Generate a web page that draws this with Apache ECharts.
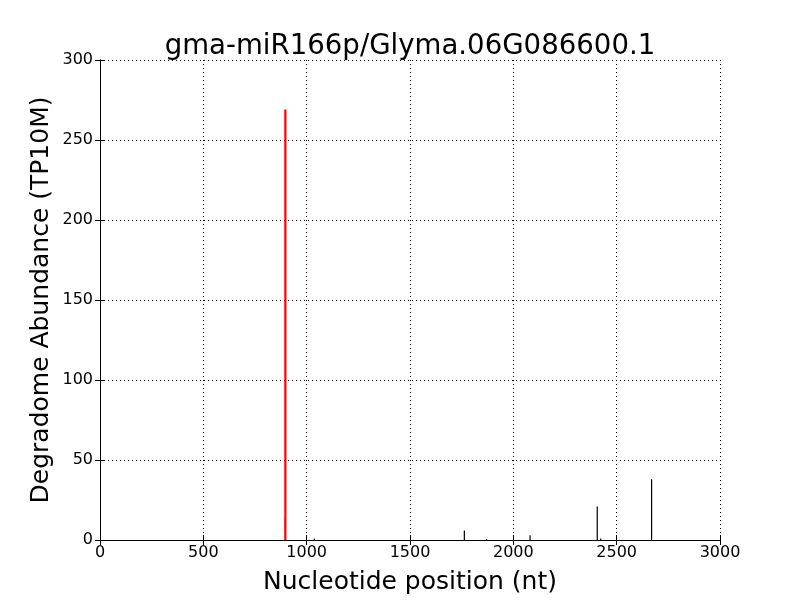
<!DOCTYPE html>
<html><head><meta charset="utf-8">
<script src="https://cdn.jsdelivr.net/npm/echarts@6/dist/echarts.min.js"></script>
<style>html,body{margin:0;padding:0;background:#fff}#c{width:800px;height:600px}</style>
</head><body><div id="c"></div>
<script>
const titleText = "gma-miR166p/Glyma.06G086600.1";
const xTicks = [0, 500, 1000, 1500, 2000, 2500, 3000];
const yTicks = [0, 50, 100, 150, 200, 250, 300];
const blackPositions = [897, 1037, 1763, 1871, 2081, 2406, 2423, 2669];
const blackValues = [14, 1, 6, 0.5, 3, 21, 1, 38];
const redPositions = [897];
const redValues = [269];

const chart = echarts.init(document.getElementById('c'), null, {renderer: 'canvas'});
const font = "'DejaVu Sans', sans-serif";
function stick(color, width) {
  return function (params, api) {
    const x = api.value(0), y = api.value(1);
    const p0 = api.coord([x, 0]), p1 = api.coord([x, y]);
    return {type: 'line', shape: {x1: p0[0], y1: p0[1], x2: p1[0], y2: p1[1]},
      style: {stroke: color, lineWidth: width}};
  };
}
const axisCommon = {
  axisLine: {show: true, lineStyle: {color: '#000', width: 1}},
  axisTick: {show: true, inside: true, length: 5, lineStyle: {color: '#000'}},
  splitLine: {show: false}
};
const grid = {show: true, lineStyle: {color: '#000', type: [1, 3], width: 1}};
chart.setOption({
  animation: false,
  backgroundColor: '#fff',
  title: {text: titleText, left: 405, top: 28, textAlign: 'center',
    textStyle: {fontFamily: font, fontSize: 27.6, fontWeight: 'normal', color: '#000'}},
  grid: {left: 100, right: 80, top: 60, bottom: 60, show: false},
  xAxis: [
    Object.assign({type: 'value', min: 0, max: 3000, interval: 500, position: 'bottom',
      name: 'Nucleotide position (nt)', nameLocation: 'middle', nameGap: 30, nameMoveOverlap: false,
      nameTextStyle: {fontFamily: font, fontSize: 25, color: '#000'},
      axisLabel: {fontFamily: font, fontSize: 16, color: '#000', margin: 5,
        formatter: v => String(v)}}, axisCommon, {splitLine: grid}),
    Object.assign({type: 'value', min: 0, max: 3000, interval: 500, position: 'top',
      axisLabel: {show: false}}, axisCommon)
  ],
  yAxis: [
    Object.assign({type: 'value', min: 0, max: 300, interval: 50, position: 'left',
      name: 'Degradome Abundance (TP10M)', nameLocation: 'middle', nameGap: 46, nameMoveOverlap: false,
      nameTextStyle: {fontFamily: font, fontSize: 25, color: '#000'},
      axisLabel: {fontFamily: font, fontSize: 16, color: '#000', margin: 7,
        formatter: v => String(v)}}, axisCommon, {splitLine: grid}),
    Object.assign({type: 'value', min: 0, max: 300, interval: 50, position: 'right',
      axisLabel: {show: false}}, axisCommon)
  ],
  series: [
    {type: 'custom', renderItem: stick('#000', 1.2), clip: true,
      data: blackPositions.map((p, i) => [p, blackValues[i]])},
    {type: 'custom', renderItem: stick('#ff0000', 2.2), clip: true,
      data: redPositions.map((p, i) => [p, redValues[i]])}
  ]
});
</script></body></html>
